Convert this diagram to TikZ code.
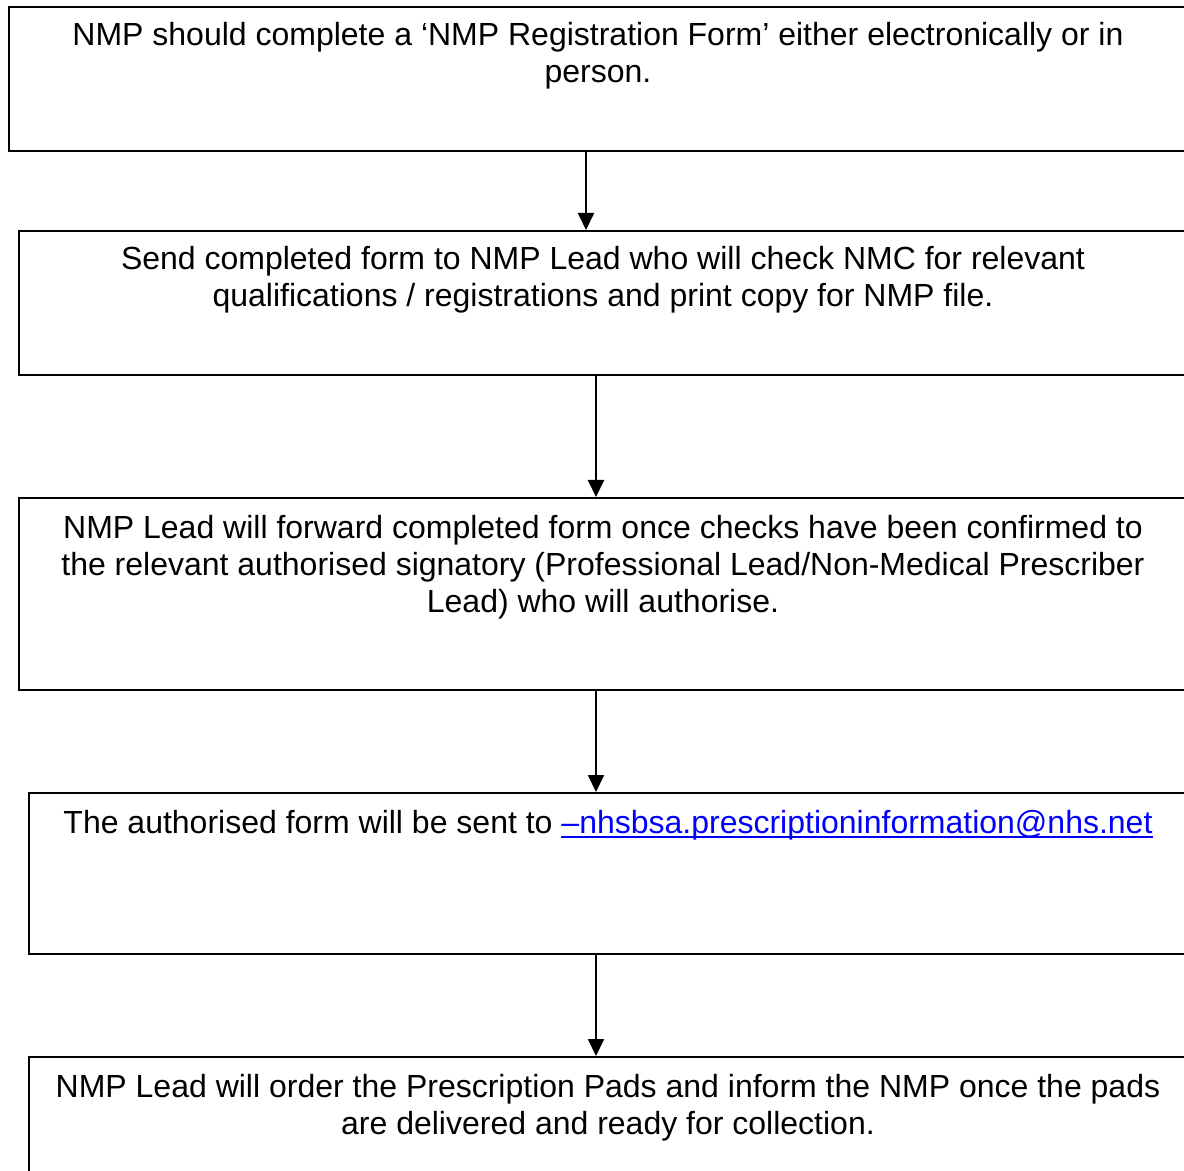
\documentclass[tikz,border=0pt]{standalone}
\usepackage{fontspec}
\setmainfont{Liberation Sans}
\usetikzlibrary{arrows.meta}
\definecolor{linkblue}{RGB}{0,0,255}
\newcommand\mailline[1]{\setbox0\hbox{#1}\rlap{\rule[-2.7pt]{\wd0}{1.1pt}}\box0}
\tikzset{
  stepbox/.style={draw, line width=1pt, rectangle, anchor=north west, minimum width=621pt, inner sep=0pt},
  steptext/.style={anchor=base, align=center, inner sep=0pt, font=\fontsize{16}{18.5}\selectfont}
}

\begin{document}
\begin{tikzpicture}[x=0.5pt, y=-0.5pt, >={Triangle[length=8.5pt,width=8pt]}]
\useasboundingbox (0,0) rectangle (1184,1171);
\clip (0,0) rectangle (1184,1171);

% the five steps
\node [stepbox, minimum height=72pt] (Reg) at (8,6) {};
\node [stepbox, minimum height=72pt] (Send) at (18,230) {};
\node [stepbox, minimum height=96pt] (Fwd) at (18,497) {};
\node [stepbox, minimum height=80.5pt] (Mail) at (28,792) {};
\node [stepbox, minimum height=100pt] (Pads) at (28,1056) {};

% text, placed by the baseline of its last line
\node [steptext] (RegT) at (598,83) {NMP should complete a ‘NMP Registration Form’ either electronically or in\\person.};
\node [steptext] (SendT) at (603,307) {Send completed form to NMP Lead who will check NMC for relevant\\qualifications / registrations and print copy for NMP file.};
\node [steptext] (FwdT) at (603,612) {NMP Lead will forward completed form once checks have been confirmed to\\the relevant authorised signatory (Professional Lead/Non-Medical Prescriber\\Lead) who will authorise.};
\node [steptext] (MailT) at (608,833) {The authorised form will be sent to {\color{linkblue}\mailline{–nhsbsa.prescriptioninformation@nhs.net}}};
\node [steptext] (PadsT) at (608,1134) {NMP Lead will order the Prescription Pads and inform the NMP once the pads\\are delivered and ready for collection.};

\draw [->, line width=1pt] (586,0 |- Reg.south) -- (586,0 |- Send.north);
\draw [->, line width=1pt] (596,0 |- Send.south) -- (596,0 |- Fwd.north);
\draw [->, line width=1pt] (596,0 |- Fwd.south) -- (596,0 |- Mail.north);
\draw [->, line width=1pt] (596,0 |- Mail.south) -- (596,0 |- Pads.north);

\end{tikzpicture}
\end{document}
